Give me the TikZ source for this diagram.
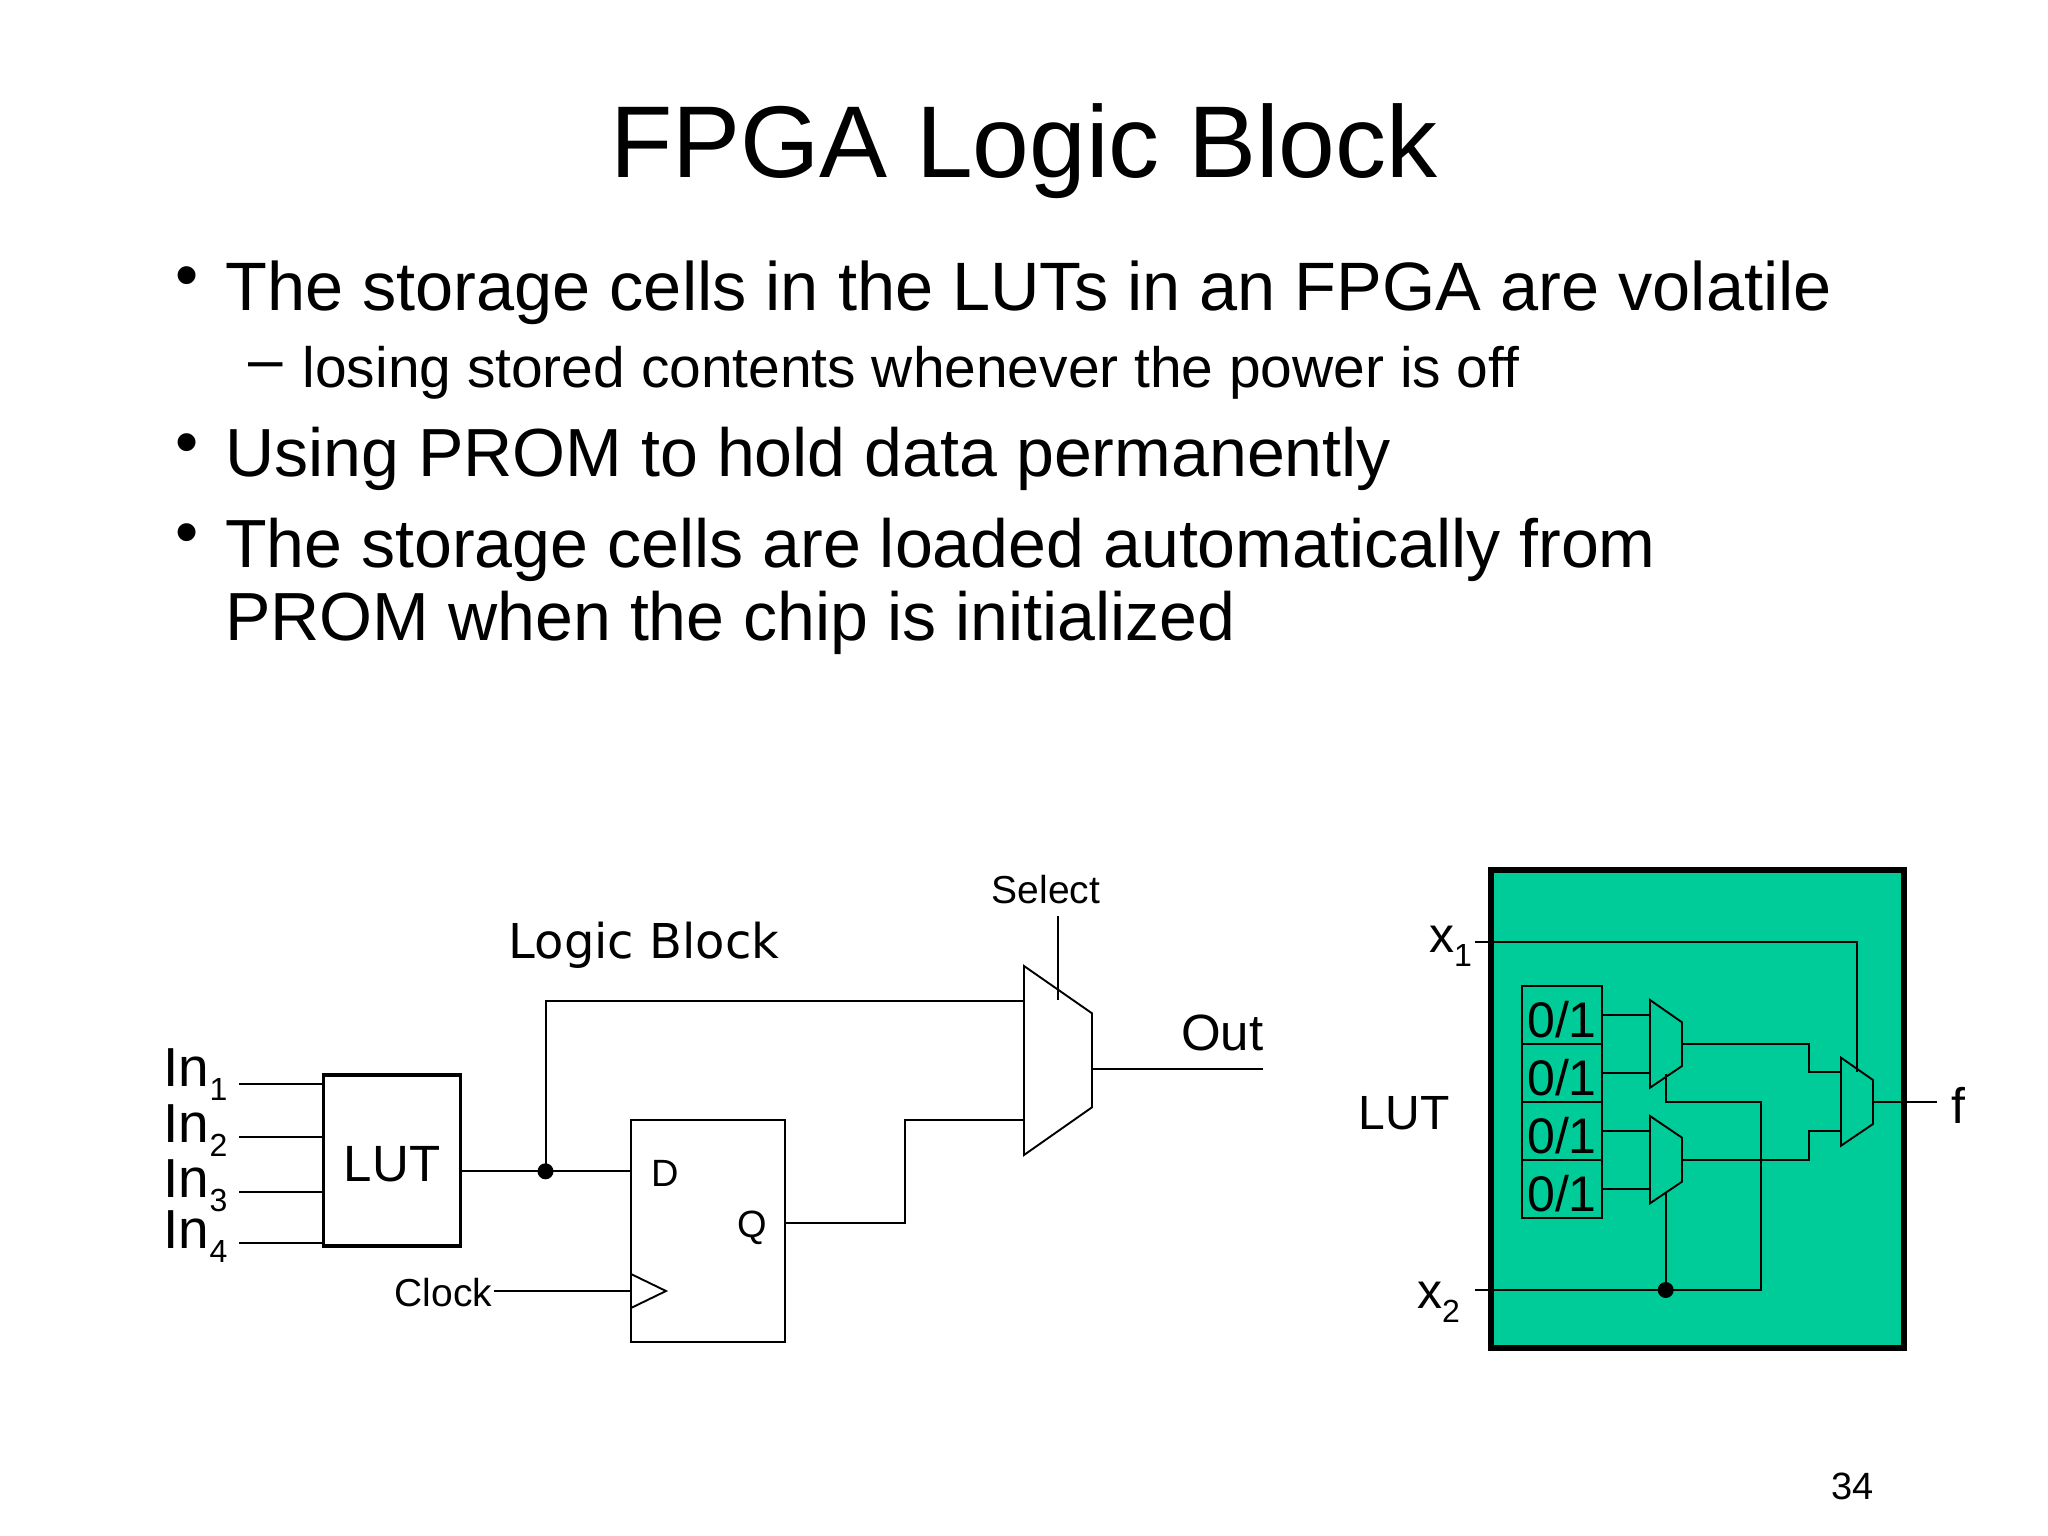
\documentclass[tikz,border=0pt]{standalone}
\usepackage{fontspec}
\setmainfont{Liberation Sans}
\newfontfamily\labelfont{DejaVu Sans}
\newcommand{\pxsize}[1]{\fontsize{#1}{#1}\selectfont}
\newcommand{\lowsub}[1]{\raisebox{-14pt}{\pxsize{32}#1}}
\tikzset{
	txt/.style={inner sep=0pt, anchor=base west, text=black},
	wire/.style={draw=black, line width=2pt, line join=miter},
	thin wire/.style={draw=black, line width=1.9pt},
	mux/.style={draw=black, line width=1.9pt, line join=miter},
	junction/.style={circle, fill=black, inner sep=0pt, minimum size=16pt},
	cell/.style={draw=black, line width=1.8pt, inner sep=0pt, minimum width=80pt, minimum height=58pt, text height=44pt, text depth=0pt, font=\pxsize{50}}
}
\definecolor{lutgreen}{HTML}{00CC99}
\begin{document}
\begin{tikzpicture}[x=1pt,y=-1pt]
	\useasboundingbox (0,0) rectangle (2048,1536);
	% slide text
	\node [txt, anchor=base, font=\pxsize{102}] (title) at (1024,177) {FPGA Logic Block};
	\node [txt, font=\pxsize{66}] (dota) at (175,297.5) {•};
	\node [txt, font=\pxsize{68.5}] (linea) at (225,310) {The storage cells in the LUTs in an FPGA are volatile};
	\node [txt, font=\pxsize{62}] (dashb) at (248,380) {–};
	\node [txt, font=\pxsize{56.9}] (lineb) at (302.5,387) {losing stored contents whenever the power is off};
	\node [txt, font=\pxsize{66}] (dotc) at (175,464) {•};
	\node [txt, font=\pxsize{68.1}] (linec) at (225,476) {Using PROM to hold data permanently};
	\node [txt, font=\pxsize{66}] (dotd) at (175,554.5) {•};
	\node [txt, font=\pxsize{68.1}] (lined) at (225,567) {The storage cells are loaded automatically from};
	\node [txt, font=\pxsize{68.1}] (linee) at (225,640) {PROM when the chip is initialized};
	\node [txt, font=\pxsize{38}] (page) at (1831,1499.5) {34};

	% logic block
	\node [txt, font=\pxsize{48}\labelfont] (blockname) at (508.5,958) {Logic Block};
	\node [draw=black, line width=3.5pt, inner sep=0pt, minimum width=137pt, minimum height=171pt, text height=41pt, text depth=0pt, font=\pxsize{51}] (lut) at (392,1160.5) {LUT};
	\node [txt, font=\pxsize{55}] (ina) at (163.5,1086) {In\lowsub{1}};
	\node [txt, font=\pxsize{55}] (inb) at (163.5,1142) {In\lowsub{2}};
	\node [txt, font=\pxsize{55}] (inc) at (163.5,1197) {In\lowsub{3}};
	\node [txt, font=\pxsize{55}] (ind) at (163.5,1248) {In\lowsub{4}};
	\coordinate (ina end) at (239,1084);
	\coordinate (inb end) at (239,1137);
	\coordinate (inc end) at (239,1192);
	\coordinate (ind end) at (239,1243);
	\draw [wire] (ina end) -- (ina end -| lut.west);
	\draw [wire] (inb end) -- (inb end -| lut.west);
	\draw [wire] (inc end) -- (inc end -| lut.west);
	\draw [wire] (ind end) -- (ind end -| lut.west);

	\node [draw=black, line width=1.8pt, inner sep=0pt, minimum width=154pt, minimum height=222pt] (ff) at (708,1231) {};
	\node [txt, font=\pxsize{38}] (dlabel) at (651.5,1186) {D};
	\node [txt, font=\pxsize{38}] (qlabel) at (737,1237) {Q};
	\node [txt, font=\pxsize{39}] (clock) at (394.5,1306) {Clock};
	\coordinate (clk tip) at (666,1291);
	\coordinate (clk top) at (631,1274);
	\coordinate (clk bot) at (631,1308);
	\draw [thin wire] (clk top) -- (clk tip) -- (clk bot);
	\draw [thin wire] (clock.east |- clk tip) ++(2,0) -- (ff.west |- clk tip);

	% output mux
	\coordinate (ma) at (1024,966);
	\coordinate (mb) at (1092,1013.3);
	\coordinate (mc) at (1092,1107.3);
	\coordinate (md) at (1024,1155);
	\draw [mux] (ma) -- (mb) -- (mc) -- (md) -- cycle;
	\coordinate (q pin) at (785,1222.7);
	\coordinate (d pin) at (631,1171.3);
	\coordinate (top in) at (1024,1000.7);
	\coordinate (low in) at (1024,1120);
	\node [junction, minimum width=15pt, minimum height=16pt] (lutdot) at (545.5,1171.3) {};
	\draw [wire] (lut.east |- d pin) -- (d pin);
	\draw [wire] (lutdot.center) -- (lutdot.center |- top in) -- (top in);
	\draw [wire] (q pin) -- (904.5,1222.7) -- (904.5,1120) -- (low in);
	\node [txt, anchor=base, font=\pxsize{39}] (select) at (1046,903.5) {Select};
	\coordinate (sel top) at (1058.3,916);
	\coordinate (sel end) at (1058.3,1000);
	\draw [thin wire] (sel top) -- (sel end);
	\coordinate (out in) at (1092,1069.3);
	\coordinate (out end) at (1263,1069.3);
	\draw [wire] (out in) -- (out end);
	\node [txt, font=\pxsize{51}] (out) at (1181,1050) {Out};

	% LUT detail
	\node [draw=black, fill=lutgreen, line width=5.6pt, inner sep=0pt, minimum width=413pt, minimum height=478pt] (lutbox) at (1697.7,1109) {};
	\node [cell] (cella) at (1562,1015) {0/1};
	\node [cell] (cellb) at (1562,1073) {0/1};
	\node [cell] (cellc) at (1562,1131) {0/1};
	\node [cell] (celld) at (1562,1189) {0/1};
	\node [txt, font=\pxsize{48}] (lutname) at (1358.5,1129) {LUT};
	\node [txt, font=\pxsize{50}] (xa) at (1429,952) {x\lowsub{1}};
	\node [txt, font=\pxsize{50}] (xb) at (1417,1308) {x\lowsub{2}};
	\node [txt, font=\pxsize{50}] (f) at (1951,1123) {f};

	\coordinate (pa) at (1650,1000);
	\coordinate (pb) at (1682,1022.3);
	\coordinate (pc) at (1682,1066);
	\coordinate (pd) at (1650,1087.7);
	\draw [mux] (pa) -- (pb) -- (pc) -- (pd) -- cycle;
	\coordinate (ra) at (1650,1116);
	\coordinate (rb) at (1682,1137.7);
	\coordinate (rc) at (1682,1181.7);
	\coordinate (rd) at (1650,1203.3);
	\draw [mux] (ra) -- (rb) -- (rc) -- (rd) -- cycle;
	\coordinate (sa) at (1841,1057.7);
	\coordinate (sb) at (1873,1080);
	\coordinate (sc) at (1873,1124);
	\coordinate (sd) at (1841,1145.7);
	\draw [mux] (sa) -- (sb) -- (sc) -- (sd) -- cycle;

	\draw [thin wire] (cella.east) -- (cella.east -| pa);
	\draw [thin wire] (cellb.east) -- (cellb.east -| pa);
	\draw [thin wire] (cellc.east) -- (cellc.east -| pa);
	\draw [thin wire] (celld.east) -- (celld.east -| pa);
	\coordinate (xa end) at (1475,942.3);
	\coordinate (xa sel) at (1857,1071.7);
	\draw [thin wire] (xa end) -- (xa end -| xa sel) -- (xa sel);
	\coordinate (xb end) at (1475,1290);
	\node [junction] (xbdot) at (1665.7,1290) {};
	\coordinate (seltop) at (1665.7,1074);
	\coordinate (sellow) at (1665.7,1193);
	\draw [thin wire] (xb end) -- (1761,1290) -- (1761,1102) -- (1665.7,1102) -- (seltop);
	\draw [thin wire] (xbdot.center) -- (sellow);
	\coordinate (upout) at (1682,1044);
	\coordinate (lowout) at (1682,1160);
	\draw [thin wire] (upout) -- (1809,1044) -- (1809,1072.3) -- (1841,1072.3);
	\draw [thin wire] (lowout) -- (1809,1160) -- (1809,1131) -- (1841,1131);
	\coordinate (fin) at (1873,1102);
	\coordinate (fend) at (1937,1102);
	\draw [thin wire] (fin) -- (fend);
\end{tikzpicture}
\end{document}
